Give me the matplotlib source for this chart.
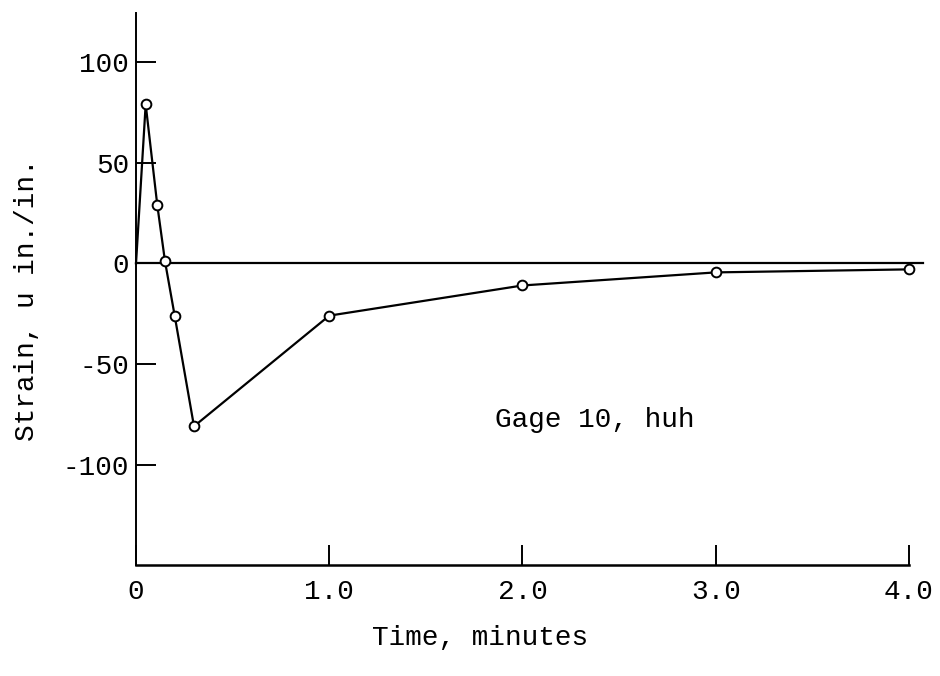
import matplotlib.pyplot as plt

# values
time_min = [0.0, 0.05, 0.11, 0.15, 0.20, 0.30, 1.0, 2.0, 3.0, 4.0]
strain = [0, 79, 29, 1, -26, -81, -26, -11, -4.5, -3]

x_ticks = [0, 1.0, 2.0, 3.0, 4.0]
x_labels = ["0", "1.0", "2.0", "3.0", "4.0"]
y_ticks = [100, 50, 0, -50, -100]
y_labels = ["100", "50", "0", "-50", "-100"]


def make_plot():
    plt.rcParams["font.family"] = ["Liberation Mono", "DejaVu Sans Mono"]

    fig = plt.figure(figsize=(9.4, 6.76), dpi=100)
    ax = fig.add_axes([0.1447, 0.164, 0.8223, 0.817])

    # zero reference line runs a bit past the last tick
    ax.plot([0, 4.07], [0, 0], color="black", lw=1.6, clip_on=False)

    # curve starts at the origin, markers only on measured points
    ax.plot(time_min, strain, color="black", lw=1.6,
            marker="o", markersize=7, markerfacecolor="white",
            markeredgecolor="black", markeredgewidth=1.4,
            markevery=list(range(1, len(time_min))), zorder=3,
            clip_on=False)

    ax.set_xlim(0, 4.0)
    ax.set_ylim(-150, 124.5)

    ax.spines["top"].set_visible(False)
    ax.spines["right"].set_visible(False)
    ax.spines["left"].set_linewidth(1.4)
    ax.spines["bottom"].set_linewidth(1.8)

    ax.set_xticks(x_ticks)
    ax.set_xticklabels(x_labels)
    ax.set_yticks(y_ticks)
    ax.set_yticklabels(y_labels)
    ax.tick_params(axis="both", direction="in", length=14.5, width=1.4,
                   labelsize=20)
    ax.tick_params(axis="x", pad=10)
    ax.tick_params(axis="y", pad=5)

    ax.set_xlabel("Time, minutes", fontsize=20)
    ax.xaxis.set_label_coords(0.445, -0.108)
    ax.set_ylabel("Strain, u in./in.", fontsize=20)
    ax.yaxis.set_label_coords(-0.124, 0.48)

    ax.text(1.86, -78, "Gage 10, huh", fontsize=20, va="center", ha="left")

    fig.savefig("out.png", dpi=100)
    plt.close(fig)


if __name__ == "__main__":
    make_plot()
